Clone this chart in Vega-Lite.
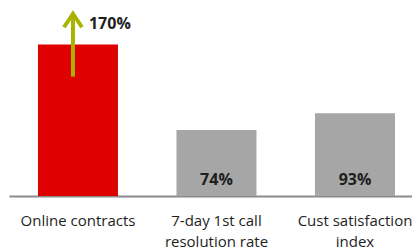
{
  "$schema": "https://vega.github.io/schema/vega-lite/v6.json",
  "width": 403,
  "height": 196,
  "autosize": {"type": "none"},
  "padding": {"left": 9, "top": 0, "right": 0, "bottom": 54},
  "background": "white",
  "config": {"view": {"stroke": null}},
  "data": {
    "values": [
      {"category": "Online contracts", "value": 170, "label": "170%", "highlight": "yes"},
      {"category": "7-day 1st call|resolution rate", "value": 74, "label": "74%", "highlight": "no"},
      {"category": "Cust satisfaction|index", "value": 93, "label": "93%", "highlight": "no"}
    ]
  },
  "encoding": {
    "x": {
      "field": "category",
      "type": "nominal",
      "sort": null,
      "scale": {"paddingInner": 0.4224, "paddingOuter": 0.166, "align": 0.63},
      "axis": {
        "title": null,
        "ticks": false,
        "labelAngle": 0,
        "labelExpr": "split(datum.label, '|')",
        "labelFont": "Open Sans",
        "labelFontSize": 15,
        "labelColor": "#1e1e1e",
        "labelLineHeight": 21,
        "labelPadding": 17,
        "labelBaseline": "top",
        "domainColor": "#8a8a8a",
        "domainWidth": 2,
        "domainCap": "butt"
      }
    }
  },
  "layer": [
    {
      "mark": {"type": "bar"},
      "encoding": {
        "y": {"field": "value", "type": "quantitative", "scale": {"domain": [0, 216]}, "axis": null},
        "color": {
          "field": "highlight",
          "type": "nominal",
          "scale": {"domain": ["yes", "no"], "range": ["#df0000", "#a6a6a6"]},
          "legend": null
        }
      }
    },
    {
      "transform": [{"filter": "datum.highlight == 'yes'"}],
      "mark": {"type": "rule", "color": "#a8b400", "strokeWidth": 4, "xOffset": -5},
      "encoding": {
        "y": {"datum": 134, "type": "quantitative"},
        "y2": {"datum": 203}
      }
    },
    {
      "transform": [{"filter": "datum.highlight == 'yes'"}],
      "mark": {
        "type": "point",
        "shape": "M-1,0.8L0,-0.7L1,0.8",
        "filled": false,
        "stroke": "#a8b400",
        "strokeWidth": 4,
        "strokeJoin": "miter",
        "size": 324,
        "opacity": 1,
        "xOffset": -5
      },
      "encoding": {
        "y": {"datum": 197.5, "type": "quantitative"}
      }
    },
    {
      "transform": [{"filter": "datum.highlight == 'yes'"}],
      "mark": {
        "type": "text",
        "align": "left",
        "baseline": "middle",
        "xOffset": 11,
        "dy": -21,
        "font": "Open Sans",
        "fontSize": 16,
        "fontWeight": "bold",
        "color": "#1e1e1e"
      },
      "encoding": {
        "y": {"field": "value", "type": "quantitative"},
        "text": {"field": "label"}
      }
    },
    {
      "transform": [{"filter": "datum.highlight == 'no'"}],
      "mark": {
        "type": "text",
        "align": "center",
        "baseline": "middle",
        "dy": -16,
        "font": "Open Sans",
        "fontSize": 16,
        "fontWeight": "bold",
        "color": "#1e1e1e"
      },
      "encoding": {
        "y": {"datum": 0, "type": "quantitative"},
        "text": {"field": "label"}
      }
    }
  ]
}
